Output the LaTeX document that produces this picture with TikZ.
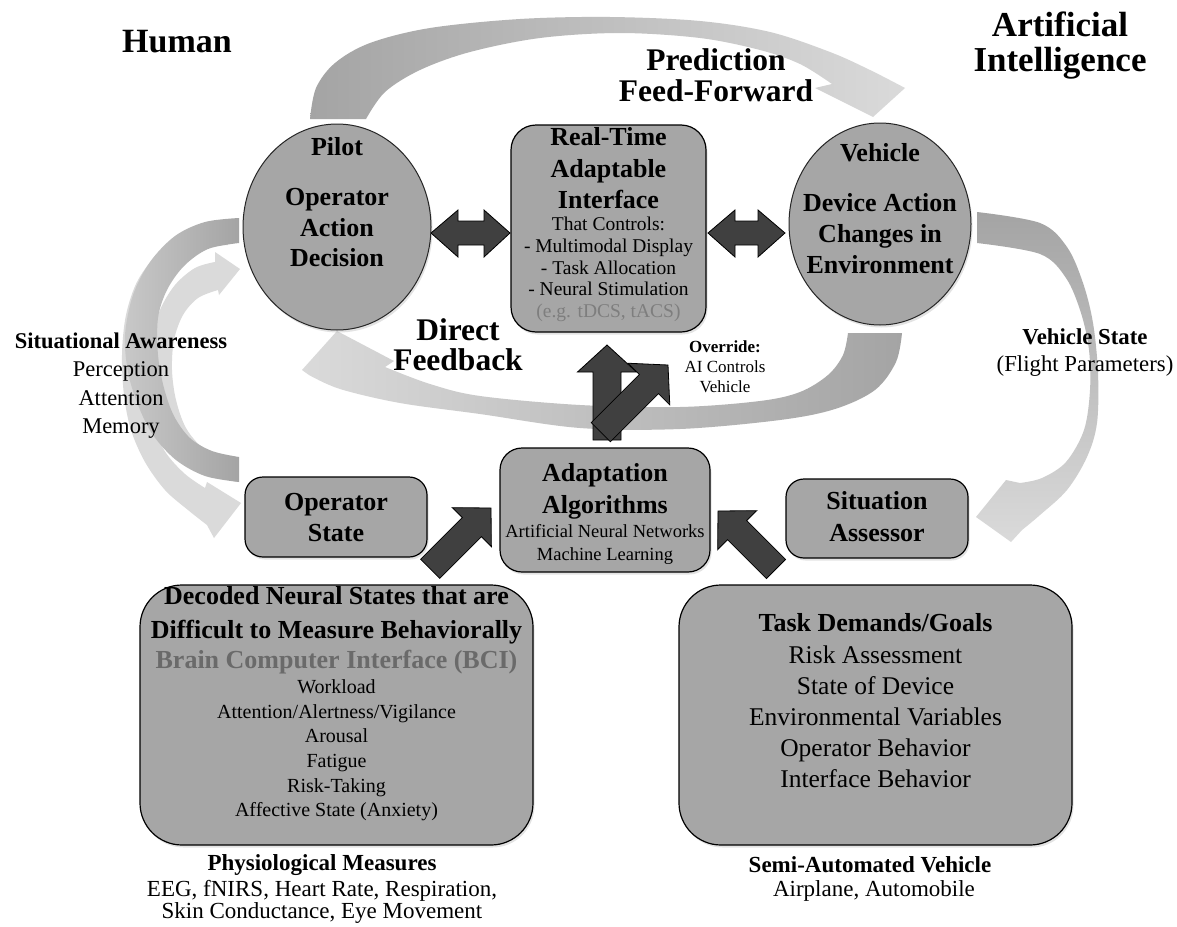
\documentclass[tikz,border=0pt]{standalone}
\usepackage{fontspec}
\setmainfont{Liberation Serif}
\usetikzlibrary{shapes.geometric,shadows}

\definecolor{panelgray}{HTML}{A6A6A6}
\definecolor{blockgray}{HTML}{404040}
\definecolor{ribbonlight}{HTML}{DADADA}
\definecolor{ribbondark}{HTML}{A4A4A4}
\definecolor{ribbonmid}{HTML}{C8C8C8}
\definecolor{bcigray}{HTML}{6A6A6A}
\definecolor{notegray}{HTML}{7E7E7E}

\newcommand{\fsz}[2]{\fontsize{#1}{#2}\selectfont}

\begin{document}
\begin{tikzpicture}[x=1pt,y=-1pt,
  panel/.style={draw=black, line width=1.2pt, fill=panelgray, rounded corners=#1, inner sep=0pt,
     drop shadow={opacity=0.22, shadow xshift=1.5pt, shadow yshift=-2.5pt}},
  oval/.style={ellipse, draw=black!85, line width=1pt, fill=panelgray, inner sep=0pt,
     drop shadow={opacity=0.22, shadow xshift=1.5pt, shadow yshift=-2.5pt}},
  blk/.style={fill=blockgray, draw=black, line width=0.8pt, line join=miter},
  txt/.style={inner sep=0pt, align=center}
]
\useasboundingbox (0,0) rectangle (1177,926);
\fill[white] (0,0) rectangle (1177,926);

% ---------- curved ribbons ----------
% prediction feed-forward (pilot -> vehicle)
\shade[left color=ribbondark, right color=ribbonlight]
  plot[smooth, tension=0.55] coordinates {(310,119) (316,88) (335,63) (370,43) (430,28) (520,19) (610,17) (700,21) (770,32) (830,52) (870,70) (905,88)}
  -- (873,117) -- (815,88) --
  plot[smooth, tension=0.55] coordinates {(832,84) (800,64) (760,50) (700,38) (620,33) (540,38) (470,52) (420,70) (385,92) (366,119)}
  -- cycle;

% direct feedback (vehicle -> pilot)
\shade[left color=ribbonlight, right color=ribbondark]
  plot[smooth, tension=0.55] coordinates {(902,333) (896,362) (875,390) (835,409) (780,420) (680,429) (580,428) (480,414) (400,403) (340,389) (309,375)}
  -- (302,370) -- (337,331) -- (394,361) --
  plot[smooth, tension=0.55] coordinates {(385,367) (430,384) (480,396) (580,405) (680,407) (760,401) (800,392) (828,375) (843,355) (848,333)}
  -- cycle;

% vehicle state (vehicle -> situation assessor)
\shade[top color=ribbondark, bottom color=ribbonlight]
  plot[smooth, tension=0.55] coordinates {(977,212) (1040,223) (1067,247) (1083,283) (1093,323) (1098,373) (1097,423) (1087,457) (1067,490) (1040,515) (1022,530)}
  -- (1011,542) -- (976,517) -- (1006,480) --
  plot[smooth, tension=0.55] coordinates {(1020,483) (1042,478) (1066,462) (1084,430) (1090,390) (1089,350) (1081,313) (1066,278) (1040,254) (977,243)}
  -- cycle;

% situational awareness loop: pilot -> operator state
\fill[ribbonlight]
  plot[smooth, tension=0.55] coordinates {(228,224) (190,234) (160,252) (138,280) (126,315) (122,355) (124,395) (131,430) (145,462) (165,490) (188,510) (207,525)}
  -- (214,538) -- (241,503) -- (207,482) --
  plot[smooth, tension=0.55] coordinates {(205,488) (185,474) (166,453) (153,426) (147,393) (146,355) (150,318) (162,285) (182,262) (205,248) (228,245)}
  -- cycle;
% operator state -> pilot
\fill[ribbonlight]
  plot[smooth, tension=0.55] coordinates {(237,482) (212,475) (189,461) (170,440) (158,410) (152,375) (152,340) (160,310) (175,285) (195,268) (215,262)}
  -- (215,252) -- (240,269) -- (219,295) --
  plot[smooth, tension=0.55] coordinates {(218,290) (198,298) (183,315) (174,340) (172,370) (176,400) (186,428) (203,448) (225,458) (237,460)}
  -- cycle;
% darker connecting band
\shade[left color=ribbonmid, right color=ribbondark]
  plot[smooth, tension=0.55] coordinates {(239,218) (205,222) (175,236) (150,262) (133,295) (125,335) (128,372) (138,405) (153,435) (176,460) (205,476) (239,482)}
  -- (239,457) --
  plot[smooth, tension=0.55] coordinates {(239,457) (212,451) (190,438) (174,416) (164,388) (158,355) (158,318) (167,290) (184,266) (208,249) (239,243)}
  -- cycle;

% ---------- main shapes ----------
\node[oval, minimum width=188pt, minimum height=206pt] (pilot) at (337,227) {};
\node[oval, minimum width=182pt, minimum height=202pt] (vehicle) at (880,224) {};
\node[panel=25pt, minimum width=195pt, minimum height=207pt] (interface) at (608.5,228.5) {};
\node[panel=22pt, minimum width=210pt, minimum height=124pt] (adapt) at (605,510) {};
\node[panel=18pt, minimum width=182pt, minimum height=80pt] (opstate) at (336,517) {};
\node[panel=18pt, minimum width=182pt, minimum height=79pt] (sitassess) at (877,518.5) {};
\node[panel=42pt, minimum width=393pt, minimum height=260pt] (decoded) at (336.5,715) {};
\node[panel=42pt, minimum width=393pt, minimum height=260pt] (demands) at (875.5,715) {};

% ---------- block arrows ----------
\draw[blk] (431,233) -- (458,210) -- (458,221) -- (484,221) -- (484,210) -- (510,233)
  -- (484,257) -- (484,245) -- (458,245) -- (458,257) -- cycle;
\draw[blk] (708,233) -- (735,210) -- (735,221) -- (758,221) -- (758,210) -- (785,233)
  -- (758,257) -- (758,245) -- (735,245) -- (735,257) -- cycle;
\draw[blk, shift={(607,345)}] (0,0) -- (29.5,27) -- (14,27) -- (14,95) -- (-14,95) -- (-14,27) -- (-29.5,27) -- cycle;
\draw[blk, shift={(668,365)}, rotate=-45] (0,0) -- (29.5,27) -- (13.5,27) -- (13.5,95) -- (-13.5,95) -- (-13.5,27) -- (-29.5,27) -- cycle;
\draw[blk, shift={(491,508)}, rotate=-45] (0,0) -- (27.5,27) -- (13.5,27) -- (13.5,86) -- (-13.5,86) -- (-13.5,27) -- (-27.5,27) -- cycle;
\draw[blk, shift={(718,511)}, rotate=45] (0,0) -- (27.5,27) -- (13.5,27) -- (13.5,82) -- (-13.5,82) -- (-13.5,27) -- (-27.5,27) -- cycle;

% ---------- texts ----------
\node[txt, font=\bfseries\fsz{34}{36}] (human) at (177,42) {Human};
\node[txt, font=\bfseries\fsz{35}{35}] (ai) at (1060,46) {Artificial\\Intelligence};
\node[txt, font=\bfseries\fsz{31.5}{30.5}] (predict) at (716,75) {Prediction\\Feed-Forward};
\node[txt, font=\bfseries\fsz{31.5}{30}] (direct) at (458,345) {Direct\\Feedback};

\node[txt, font=\bfseries\fsz{26}{30}] (pilottitle) at (337,147) {Pilot};
\node[txt, font=\bfseries\fsz{26}{30.5}] (pilottext) at (337,228) {Operator\\Action\\Decision};
\node[txt, font=\bfseries\fsz{26}{30}] (vehtitle) at (880,153) {Vehicle};
\node[txt, font=\bfseries\fsz{26}{31}] (vehtext) at (880,234) {Device Action\\Changes in\\Environment};

\node[txt, font=\bfseries\fsz{26}{31.5}] (ifhead) at (608.5,168.5) {Real-Time\\Adaptable\\Interface};
\node[txt, font=\fsz{19.5}{21.8}] (ifbody) at (608.5,269.5)
  {That Controls:\\- Multimodal Display\\- Task Allocation\\- Neural Stimulation\\\textcolor{notegray}{(e.g. tDCS, tACS)}};

\node[txt, font=\bfseries\fsz{26}{32}] (adapthead) at (605,491) {Adaptation\\Algorithms};
\node[txt, font=\fsz{18.5}{23}] (adaptbody) at (605,544.5) {Artificial Neural Networks\\Machine Learning};

\node[txt, font=\bfseries\fsz{26}{31}] (optext) at (336,517.5) {Operator\\State};
\node[txt, font=\bfseries\fsz{26}{32}] (sittext) at (877,517) {Situation\\Assessor};

\node[txt, font=\bfseries\fsz{26}{34}] (dechead) at (336.5,615) {Decoded Neural States that are\\Difficult to Measure Behaviorally};
\node[txt, font=\bfseries\fsz{26}{30}, text=bcigray] (bci) at (336.5,662) {Brain Computer Interface (BCI)};
\node[txt, font=\fsz{20}{24.6}] (declist) at (336.5,750.5)
  {Workload\\Attention/Alertness/Vigilance\\Arousal\\Fatigue\\Risk-Taking\\Affective State (Anxiety)};

\node[txt, font=\bfseries\fsz{26}{30}] (demhead) at (875.5,623) {Task Demands/Goals};
\node[txt, font=\fsz{25.5}{31.2}] (demlist) at (875.5,716.8)
  {Risk Assessment\\State of Device\\Environmental Variables\\Operator Behavior\\Interface Behavior};

\node[txt, font=\fsz{22.5}{28.3}] (sa) at (121,385.5)
  {\textbf{Situational Awareness}\\Perception\\Attention\\Memory};
\node[txt, font=\fsz{22.8}{27}] (vstate) at (1085,352.5)
  {\textbf{Vehicle State}\\(Flight Parameters)};
\node[txt, font=\fsz{17}{20}] (override) at (725,367)
  {\textbf{Override:}\\AI Controls\\Vehicle};

\node[txt, font=\bfseries\fsz{23}{26}] (physhead) at (322,865) {Physiological Measures};
\node[txt, font=\fsz{23}{22.5}] (physbody) at (322,902) {EEG, fNIRS, Heart Rate, Respiration,\\Skin Conductance, Eye Movement};
\node[txt, font=\bfseries\fsz{23}{26}] (semihead) at (870,865) {Semi-Automated Vehicle};
\node[txt, font=\fsz{23}{26}] (semibody) at (874,891) {Airplane, Automobile};

\end{tikzpicture}
\end{document}
